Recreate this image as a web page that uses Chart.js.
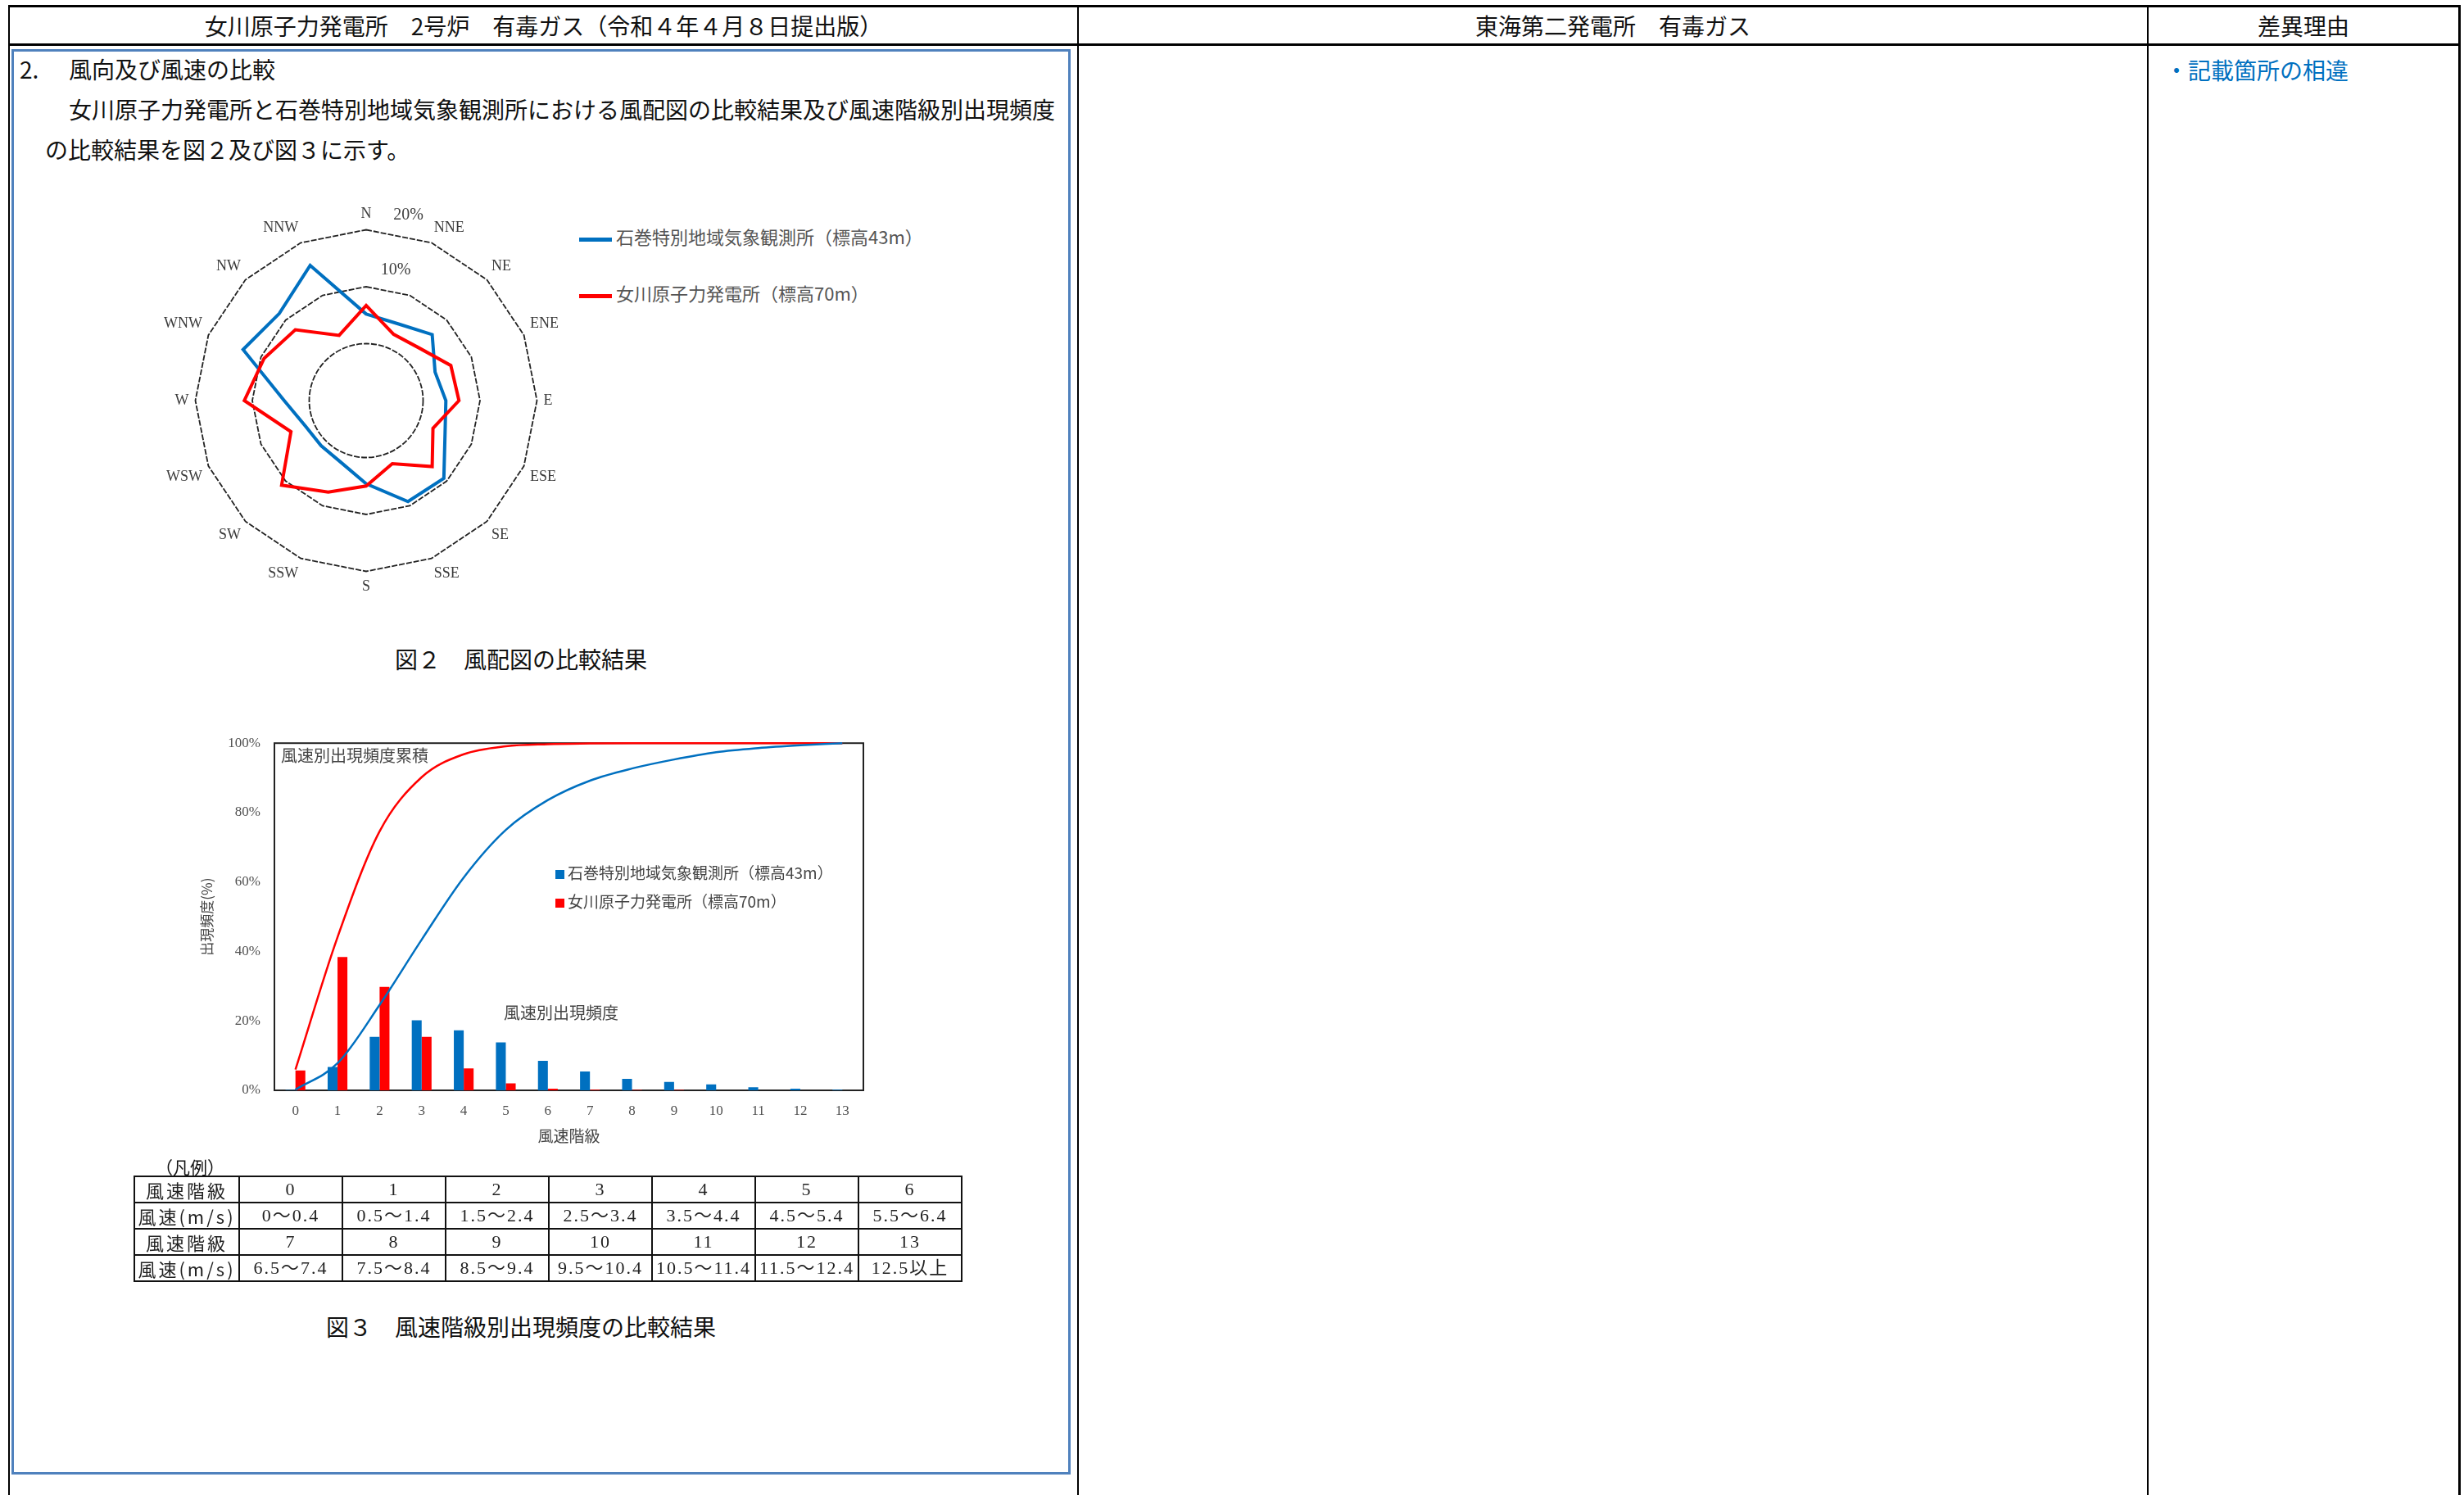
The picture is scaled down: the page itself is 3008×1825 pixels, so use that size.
<!DOCTYPE html>
<html lang="ja">
<head>
<meta charset="utf-8">
<title>風向及び風速の比較</title>
<script src="https://cdn.jsdelivr.net/npm/chart.js@4.4.1/dist/chart.umd.min.js"></script>
<style>
  html, body { margin: 0; padding: 0; background: #fff; }
  body { width: 3008px; height: 1825px; position: relative; overflow: hidden;
         font-family: "Noto Sans CJK JP", sans-serif; color: #111; }
  .rule { position: absolute; background: #000; }
  .txt { position: absolute; white-space: nowrap; height: 40px; line-height: 40px; }
  .hd { font-size: 28px; text-align: center; top: 11px; }
  .body28 { font-size: 28px; }
  #frame { position: absolute; left: 14px; top: 60px; width: 1293px; height: 1740px;
           border: 3px solid #4f81bd; box-sizing: border-box; }
  canvas { position: absolute; }
  .legend { position: absolute; font-size: 22px; color: #555; white-space: nowrap; }
  .legend .item { position: absolute; left: 0; height: 30px; line-height: 30px; }
  .legend .swatch { display: inline-block; vertical-align: middle; }
  .note { position: absolute; font-size: 20px; color: #444; white-space: nowrap;
          height: 30px; line-height: 30px; z-index: 2; }
  #speedTable { position: absolute; left: 163px; top: 1435px; border-collapse: collapse;
                font-family: "Liberation Serif", "Noto Sans CJK JP", serif; font-size: 22px; color: #222; }
  #speedTable td { border: 2px solid #111; height: 30px; line-height: 30px; padding: 0; text-align: center;
                   width: 124px; letter-spacing: 2px; white-space: nowrap; overflow: hidden; }
  #speedTable td.head { width: 126px; font-family: "Noto Sans CJK JP", sans-serif; letter-spacing: 3px; }
</style>
</head>
<body>

<!-- outer comparison table -->
<div class="rule" style="left:10px;top:6px;width:2994px;height:3px"></div>
<div class="rule" style="left:10px;top:53px;width:2994px;height:3px"></div>
<div class="rule" style="left:10px;top:6px;width:2px;height:1819px"></div>
<div class="rule" style="left:1315px;top:6px;width:2px;height:1819px"></div>
<div class="rule" style="left:2621px;top:6px;width:2px;height:1819px"></div>
<div class="rule" style="left:3001px;top:6px;width:3px;height:1819px"></div>

<div class="txt hd" style="left:12px;width:1303px">女川原子力発電所　2号炉　有毒ガス（令和４年４月８日提出版）</div>
<div class="txt hd" style="left:1317px;width:1304px">東海第二発電所　有毒ガス</div>
<div class="txt hd" style="left:2623px;width:378px">差異理由</div>
<div class="txt body28" style="left:2643px;top:65px;color:#0070c0">・記載箇所の相違</div>

<div id="frame"></div>
<div class="txt body28" style="left:24px;top:64px">2.</div>
<div class="txt body28" style="left:84px;top:64px">風向及び風速の比較</div>
<div class="txt body28" style="left:84px;top:113px">女川原子力発電所と石巻特別地域気象観測所における風配図の比較結果及び風速階級別出現頻度</div>
<div class="txt body28" style="left:55px;top:162px">の比較結果を図２及び図３に示す。</div>

<canvas id="rose" width="494" height="494" style="left:194px;top:243px"></canvas>
<div class="legend" id="roseLegend" style="left:707px;top:273px"></div>
<div class="txt body28" style="left:0;width:1272px;top:784px;text-align:center">図２　風配図の比較結果</div>

<canvas id="speed" width="850" height="530" style="left:230px;top:880px"></canvas>
<div class="note" style="left:343px;top:907px">風速別出現頻度累積</div>
<div class="note" style="left:615px;top:1221px">風速別出現頻度</div>
<div class="legend" id="speedLegend" style="left:678px;top:1050px;font-size:19px;color:#444;z-index:2"></div>

<div class="txt" style="left:190px;top:1404px;font-size:21px">（凡例）</div>
<table id="speedTable"></table>
<div class="txt body28" style="left:0;width:1272px;top:1599px;text-align:center">図３　風速階級別出現頻度の比較結果</div>

<script>
// ---- 図2 wind rose (%) ----
const directions = ['N', 'NNE', 'NE', 'ENE', 'E', 'ESE', 'SE', 'SSE',
                    'S', 'SSW', 'SW', 'WSW', 'W', 'WNW', 'NW', 'NNW'];
const ishinomakiRose = [5.2, 4.6, 6.4, 3.1, 4.0, 5.0, 9.3, 9.2, 4.6, 1.7, 1.2, 1.6, 4.4, 13.4, 11.6, 15.7];
const onagawaRose = [6.7, 2.6, 3.1, 6.1, 6.3, 2.7, 6.4, 2.0, 5.0, 7.4, 11.0, 4.3, 11.4, 9.4, 7.6, 2.4];
const roseMin = -10;   // calm circle sits at 0%
const roseMax = 20;
const roseStep = 10;

// ---- 図3 wind speed classes (%) ----
const speedClasses = ['0', '1', '2', '3', '4', '5', '6', '7', '8', '9', '10', '11', '12', '13'];
const ishinomakiFreq = [0.1, 6.7, 15.4, 20.2, 17.3, 13.8, 8.5, 5.4, 3.3, 2.4, 1.7, 0.9, 0.5, 0.2];
const onagawaFreq = [5.7, 38.4, 29.8, 15.4, 6.3, 2.0, 0.5, 0.2, 0.1, 0.1, 0, 0, 0, 0];
const ishinomakiCum = [0.2, 7.8, 24.6, 43.4, 61.3, 75.0, 83.6, 89.2, 92.7, 95.3, 97.4, 98.6, 99.4, 100];
const onagawaCum = [6.0, 44.1, 74.6, 90.2, 96.8, 99.1, 99.7, 99.9, 100, 100, 100, 100, 100, 100];
const freqTicks = [0, 20, 40, 60, 80, 100];

// ---- legend table ----
const speedRanges = ['0～0.4', '0.5～1.4', '1.5～2.4', '2.5～3.4', '3.5～4.4', '4.5～5.4', '5.5～6.4',
                     '6.5～7.4', '7.5～8.4', '8.5～9.4', '9.5～10.4', '10.5～11.4', '11.5～12.4', '12.5以上'];

const stations = ['石巻特別地域気象観測所（標高43m）', '女川原子力発電所（標高70m）'];
const stationColors = ['#0070c0', '#ff0000'];

const serif = '"Liberation Serif", "Noto Sans CJK JP", serif';
const gothic = '"Noto Sans CJK JP", sans-serif';

// calm circle + offset percentage labels for the rose
const roseExtras = {
    id: 'roseExtras',
    beforeDatasetsDraw(chart) {
        const r = chart.scales.r;
        const ctx = chart.ctx;
        ctx.save();
        ctx.strokeStyle = '#222';
        ctx.lineWidth = 1.8;
        ctx.setLineDash([7, 2]);
        ctx.beginPath();
        ctx.arc(r.xCenter, r.yCenter, r.getDistanceFromCenterForValue(0), 0, Math.PI * 2);
        ctx.stroke();
        ctx.setLineDash([]);
        ctx.fillStyle = '#404040';
        ctx.font = '20px ' + serif;
        ctx.textAlign = 'center';
        ctx.textBaseline = 'middle';
        const a = 12.8 * Math.PI / 180;
        r.ticks.forEach((t) => {
            if (t.value <= 0) return;
            const d = r.getDistanceFromCenterForValue(t.value) + 24;
            ctx.fillText(t.value + '%', r.xCenter + d * Math.sin(a), r.yCenter - d * Math.cos(a));
        });
        ctx.restore();
    }
};

// plot frame drawn under the lines
const plotFrame = {
    id: 'plotFrame',
    beforeDatasetsDraw(chart) {
        const { ctx, chartArea: a } = chart;
        ctx.save();
        ctx.strokeStyle = '#222';
        ctx.lineWidth = 2;
        ctx.strokeRect(a.left, a.top, a.right - a.left, a.bottom - a.top);
        ctx.restore();
    }
};

const buildRose = () => {
    new Chart(document.getElementById('rose'), {
        type: 'radar',
        data: {
            labels: directions,
            datasets: [
                { label: stations[0], data: ishinomakiRose, borderColor: stationColors[0], order: 1 },
                { label: stations[1], data: onagawaRose, borderColor: stationColors[1], order: 0 }
            ]
        },
        options: {
            responsive: false,
            animation: false,
            plugins: { legend: { display: false }, tooltip: { enabled: false } },
            elements: {
                line: { tension: 0, borderWidth: 4, fill: false, borderJoinStyle: 'miter' },
                point: { radius: 0 }
            },
            scales: {
                r: {
                    min: roseMin,
                    max: roseMax,
                    ticks: { display: false, stepSize: roseStep },
                    angleLines: { display: false },
                    grid: {
                        color: (c) => (c.tick && c.tick.value > 0) ? '#222' : 'rgba(0,0,0,0)',
                        lineWidth: 1.8
                    },
                    border: { dash: [7, 2] },
                    pointLabels: { font: { family: serif, size: 18 }, color: '#3a3a3a', padding: 8 }
                }
            }
        },
        plugins: [roseExtras]
    });
}

const buildSpeed = () => {
    new Chart(document.getElementById('speed'), {
        data: {
            labels: speedClasses,
            datasets: [
                { type: 'line', data: ishinomakiCum, borderColor: stationColors[0], borderWidth: 2.5,
                  pointRadius: 0, cubicInterpolationMode: 'monotone', clip: false, order: 0 },
                { type: 'line', data: onagawaCum, borderColor: stationColors[1], borderWidth: 2.5,
                  pointRadius: 0, cubicInterpolationMode: 'monotone', clip: false, order: 0 },
                { type: 'bar', label: stations[0], data: ishinomakiFreq, backgroundColor: stationColors[0],
                  categoryPercentage: 0.47, barPercentage: 1, order: 1 },
                { type: 'bar', label: stations[1], data: onagawaFreq, backgroundColor: stationColors[1],
                  categoryPercentage: 0.47, barPercentage: 1, order: 1 }
            ]
        },
        options: {
            responsive: false,
            animation: false,
            layout: { padding: { top: 25, right: 26, left: 0, bottom: 0 } },
            plugins: { legend: { display: false }, tooltip: { enabled: false } },
            scales: {
                x: {
                    grid: { display: false, drawTicks: false },
                    border: { display: false },
                    ticks: { color: '#505050', font: { family: serif, size: 17 }, padding: 15 },
                    title: { display: true, text: '風速階級', color: '#444',
                             font: { family: gothic, size: 19 }, padding: { top: 0, bottom: 12 } },
                    afterFit: (s) => { s.height = 79; }
                },
                y: {
                    min: freqTicks[0],
                    max: freqTicks[freqTicks.length - 1],
                    afterBuildTicks: (s) => { s.ticks = freqTicks.map((v) => ({ value: v })); },
                    grid: { display: false, drawTicks: false },
                    border: { display: false },
                    ticks: { color: '#505050', font: { family: serif, size: 17 }, padding: 17,
                             callback: (v) => v + '%' },
                    title: { display: true, text: '出現頻度(%)', color: '#444',
                             font: { family: gothic, size: 17 }, padding: { top: 12, bottom: 0 } },
                    afterFit: (s) => { s.width = 105; }
                }
            }
        },
        plugins: [plotFrame]
    });
}

const buildLegends = () => {
    var html = '';
    stations.forEach((name, i) => {
        html += `<div class="item" style="top:${i * 69}px">
            <span class="swatch" style="width:40px;height:5px;background:${stationColors[i]};margin-right:5px"></span>${name}
        </div>`;
    });
    document.getElementById('roseLegend').innerHTML = html;

    html = '';
    stations.forEach((name, i) => {
        html += `<div class="item" style="top:${i * 35}px">
            <span class="swatch" style="width:11px;height:11px;background:${stationColors[i]};margin-right:4px"></span>${name}
        </div>`;
    });
    document.getElementById('speedLegend').innerHTML = html;
}

const buildTable = () => {
    var html = '';
    [0, 7].forEach((start) => {
        const classes = speedClasses.slice(start, start + 7);
        const ranges = speedRanges.slice(start, start + 7);
        html += '<tr><td class="head">風速階級</td>' + classes.map((c) => `<td>${c}</td>`).join('') + '</tr>';
        html += '<tr><td class="head">風速(m/s)</td>' + ranges.map((r) => `<td>${r}</td>`).join('') + '</tr>';
    });
    document.getElementById('speedTable').innerHTML = html;
}

window.onload = () => {
    buildRose();
    buildSpeed();
    buildLegends();
    buildTable();
}
</script>
</body>
</html>
